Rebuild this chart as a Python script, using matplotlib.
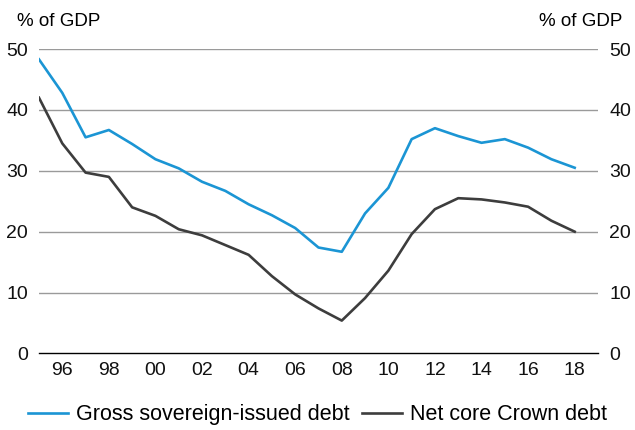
import matplotlib.pyplot as plt

plt.rcParams['font.family'] = ['Liberation Sans', 'DejaVu Sans']

years = list(range(1995, 2019))
gross_debt = [48.3, 42.8, 35.5, 36.7, 34.4, 31.9, 30.4, 28.2, 26.7, 24.5, 22.7, 20.6,
              17.4, 16.7, 23.0, 27.2, 35.2, 37.0, 35.7, 34.6, 35.2, 33.8, 31.9, 30.5]
net_debt = [42.0, 34.5, 29.7, 29.0, 24.0, 22.6, 20.4, 19.4, 17.8, 16.2, 12.7, 9.7,
            7.4, 5.4, 9.1, 13.6, 19.6, 23.7, 25.5, 25.3, 24.8, 24.1, 21.8, 20.0]
tick_years = list(range(1996, 2019, 2))
y_ticks = [0, 10, 20, 30, 40, 50]

fig = plt.figure(figsize=(6.35, 4.3), dpi=100)
ax = fig.add_axes([0.0614, 0.178, 0.8803, 0.708])

for t in y_ticks[1:]:
    ax.axhline(t, color='#9a9a9a', lw=1.0, zorder=1)

ax.plot(years, gross_debt, color='#1b95d4', lw=1.9, label='Gross sovereign-issued debt', zorder=3)
ax.plot(years, net_debt, color='#3d3d3d', lw=1.9, label='Net core Crown debt', zorder=3)

ax.set_xlim(1995, 2019)
ax.set_ylim(0, 50)
ax.set_xticks(tick_years)
ax.set_xticklabels(['%02d' % (y % 100) for y in tick_years])
ax.set_yticks(y_ticks)

for s in ['top', 'left', 'right']:
    ax.spines[s].set_visible(False)
ax.spines['bottom'].set_color('black')
ax.spines['bottom'].set_linewidth(1.0)

ax.tick_params(axis='both', length=0, labelsize=14, colors='#111111')
ax.tick_params(axis='x', pad=6)
ax.tick_params(axis='y', pad=8, labelright=True)

fig.text(0.026, 0.95, '% of GDP', fontsize=13.5, ha='left', va='center')
fig.text(0.98, 0.95, '% of GDP', fontsize=13.5, ha='right', va='center')

fig.legend(loc='center', bbox_to_anchor=(0.5, 0.035), ncol=2, frameon=False,
           fontsize=15.5, handlelength=1.86, handletextpad=0.37, columnspacing=0.56)

fig.savefig('out.png', dpi=100)
